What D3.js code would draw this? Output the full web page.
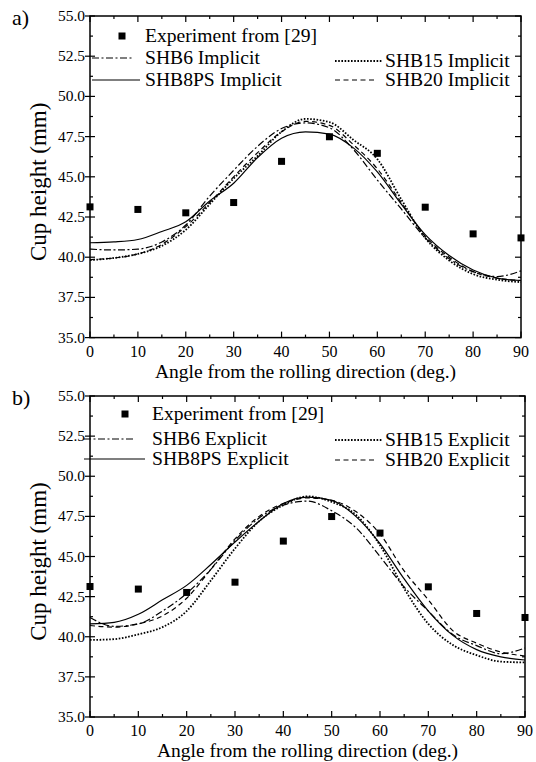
<!DOCTYPE html>
<html><head><meta charset="utf-8">
<script src="https://cdn.jsdelivr.net/npm/d3@7"></script>
<style>
html,body{margin:0;padding:0;background:#fff;}
svg{display:block;}
</style></head>
<body>
<svg id="chart" width="536" height="762"></svg>
<script>
// ---- data ----
const angles = [0,5,10,15,20,25,30,35,40,45,50,55,60,65,70,75,80,85,90];
const expAngles = [0,10,20,30,40,50,60,70,80,90];
const expHeights = [43.13,42.97,42.76,43.40,45.96,47.49,46.46,43.11,41.45,41.20];

const shb6Implicit   = [40.50,40.45,40.50,40.95,42.00,43.80,45.40,46.90,48.00,48.35,48.05,46.70,44.80,43.00,41.20,39.90,39.10,38.80,39.15];
const shb8psImplicit = [40.90,40.95,41.10,41.60,42.20,43.50,44.60,46.20,47.40,47.80,47.65,46.80,45.30,43.30,41.40,40.10,39.20,38.70,38.55];
const shb15Implicit  = [39.82,39.95,40.20,40.70,41.70,43.30,44.90,46.30,47.80,48.60,48.40,47.30,46.10,43.60,41.20,39.80,38.95,38.60,38.45];
const shb20Implicit  = [39.85,39.95,40.20,40.80,41.90,43.40,45.00,46.50,47.80,48.45,48.20,47.00,45.50,43.40,41.30,40.00,39.10,38.70,38.55];

const shb6Explicit   = [41.20,40.65,40.80,41.60,42.70,44.20,46.00,47.40,48.20,48.45,47.85,46.80,45.00,43.10,41.60,40.15,39.45,38.95,39.30];
const shb8psExplicit = [40.80,40.90,41.40,42.30,43.20,44.50,45.90,47.20,48.30,48.70,48.50,47.50,45.80,43.60,41.60,40.10,39.20,38.75,38.55];
const shb15Explicit  = [39.80,39.85,40.15,40.60,41.60,43.50,45.50,47.20,48.20,48.75,48.40,47.60,45.70,43.00,40.80,39.50,38.85,38.45,38.40];
const shb20Explicit  = [40.70,40.60,40.80,41.30,42.40,44.20,46.10,47.50,48.30,48.65,48.50,47.80,46.40,44.10,42.30,40.40,39.60,39.05,38.80];

const xTicks = [0,10,20,30,40,50,60,70,80,90];
const yTicks = [35.0,37.5,40.0,42.5,45.0,47.5,50.0,52.5,55.0];
const xLabel = "Angle from the rolling direction (deg.)";
const yLabel = "Cup height (mm)";

// ---- styles ----
const FONT = "'Liberation Serif', 'Times New Roman', Times, 'DejaVu Serif', serif";
const styles = {
  dashdot: "7,2.5,2,2.5",
  solid: null,
  dotted: "1.6,1.6",
  dashed: "5,3.5"
};

const svg = d3.select("#chart").attr("font-family", FONT);

function drawPanel(cfg){
  const g = svg.append("g");
  const x = d3.scaleLinear().domain([0,90]).range([cfg.left, cfg.right]);
  const y = d3.scaleLinear().domain([35,55]).range([cfg.bottom, cfg.top]);

  const xMinor = d3.range(5,90,10);
  const yMinor = d3.range(36.25,55,2.5);
  const tk = g.append("g").attr("stroke","#000").attr("stroke-width",1.2);
  xTicks.forEach(v=>{
    tk.append("line").attr("x1",x(v)).attr("x2",x(v)).attr("y1",y(35)).attr("y2",y(35)-6);
    tk.append("line").attr("x1",x(v)).attr("x2",x(v)).attr("y1",y(55)).attr("y2",y(55)+6);
  });
  xMinor.forEach(v=>{
    tk.append("line").attr("x1",x(v)).attr("x2",x(v)).attr("y1",y(35)).attr("y2",y(35)-3);
    tk.append("line").attr("x1",x(v)).attr("x2",x(v)).attr("y1",y(55)).attr("y2",y(55)+3);
  });
  yTicks.forEach(v=>{
    tk.append("line").attr("x1",x(0)-5).attr("x2",x(0)+5).attr("y1",y(v)).attr("y2",y(v));
    tk.append("line").attr("x1",x(90)).attr("x2",x(90)-6).attr("y1",y(v)).attr("y2",y(v));
  });
  yMinor.forEach(v=>{
    tk.append("line").attr("x1",x(0)).attr("x2",x(0)+3).attr("y1",y(v)).attr("y2",y(v));
    tk.append("line").attr("x1",x(90)).attr("x2",x(90)-3).attr("y1",y(v)).attr("y2",y(v));
  });

  g.append("rect").attr("x",x(0)).attr("y",y(55)).attr("width",x(90)-x(0)).attr("height",y(35)-y(55))
    .attr("fill","none").attr("stroke","#000").attr("stroke-width",1.5);

  g.append("g").selectAll("text").data(xTicks).join("text")
    .attr("font-family",FONT)
    .attr("x",d=>x(d)).attr("y",y(35)+19).attr("text-anchor","middle")
    .attr("font-size",16).text(d=>d);
  g.append("g").selectAll("text").data(yTicks).join("text")
    .attr("font-family",FONT)
    .attr("x",x(0)-5).attr("y",d=>y(d)+5).attr("text-anchor","end")
    .attr("font-size",15.5).text(d=>d.toFixed(1));

  g.append("text").attr("font-family",FONT).attr("x",(x(0)+x(90))/2).attr("y",y(35)+40).attr("text-anchor","middle")
    .attr("font-size",19.5).text(xLabel);
  g.append("text").attr("font-family",FONT).attr("transform",`translate(${cfg.left-44},${(y(35)+y(55))/2+5}) rotate(-90)`)
    .attr("text-anchor","middle").attr("font-size",23).text(yLabel);

  g.append("text").attr("font-family",FONT).attr("x",12).attr("y",cfg.top+9).attr("font-size",22).text(cfg.tag);

  const line = d3.line().x((d,i)=>x(angles[i])).y(d=>y(d)).curve(d3.curveMonotoneX);
  cfg.series.forEach(s=>{
    g.append("path").attr("d",line(s.values)).attr("fill","none").attr("stroke","#000")
      .attr("stroke-width",s.style==="dotted"?1.8:1.2)
      .attr("stroke-dasharray",styles[s.style]);
  });

  g.append("g").selectAll("rect").data(expHeights).join("rect")
    .attr("x",(d,i)=>x(expAngles[i])-3.5).attr("y",d=>y(d)-3.5)
    .attr("width",7).attr("height",7).attr("fill","#000");

  const lg = g.append("g");
  const L = cfg.legend;
  const legendText = (tx, ty, str) => lg.append("text").attr("font-family",FONT)
    .attr("transform",`translate(${tx},${ty+6}) scale(1.09,1)`).attr("font-size",L.fs).text(str);
  lg.append("rect").attr("x",L.markX-3.5).attr("y",L.rows[0]-3.5).attr("width",7).attr("height",7).attr("fill","#000");
  legendText(L.textX, L.rows[0], "Experiment from [29]");
  const items = [
    {s:cfg.series[0], x1:L.lineX1, x2:L.lineX2a, tx:L.textX, ty:L.rows[1]},
    {s:cfg.series[1], x1:L.lineX1, x2:L.lineX2b, tx:L.textX, ty:L.rows[2]},
    {s:cfg.series[2], x1:335, x2:383, tx:385, ty:L.rows[3]},
    {s:cfg.series[3], x1:335, x2:375, tx:385, ty:L.rows[4]}
  ];
  items.forEach(it=>{
    lg.append("line").attr("x1",it.x1).attr("x2",it.x2).attr("y1",it.ty).attr("y2",it.ty)
      .attr("stroke","#000").attr("stroke-width",it.s.style==="dotted"?1.8:1.2)
      .attr("stroke-dasharray",styles[it.s.style]);
    legendText(it.tx, it.ty, it.s.name);
  });
}

drawPanel({
  tag:"a)", left:90, right:521, top:16, bottom:337.6,
  series:[
    {name:"SHB6 Implicit", values:shb6Implicit, style:"dashdot"},
    {name:"SHB8PS Implicit", values:shb8psImplicit, style:"solid"},
    {name:"SHB15 Implicit", values:shb15Implicit, style:"dotted"},
    {name:"SHB20 Implicit", values:shb20Implicit, style:"dashed"}
  ],
  legend:{fs:18, markX:122, textX:145, lineX1:92, lineX2a:134, lineX2b:140, rows:[36,58,80,61,80]}
});
drawPanel({
  tag:"b)", left:90, right:525, top:396, bottom:717,
  series:[
    {name:"SHB6 Explicit", values:shb6Explicit, style:"dashdot"},
    {name:"SHB8PS Explicit", values:shb8psExplicit, style:"solid"},
    {name:"SHB15 Explicit", values:shb15Explicit, style:"dotted"},
    {name:"SHB20 Explicit", values:shb20Explicit, style:"dashed"}
  ],
  legend:{fs:18, markX:125, textX:152, lineX1:84, lineX2a:135, lineX2b:145, rows:[414,439,459,440,460]}
});
</script>
</body></html>
